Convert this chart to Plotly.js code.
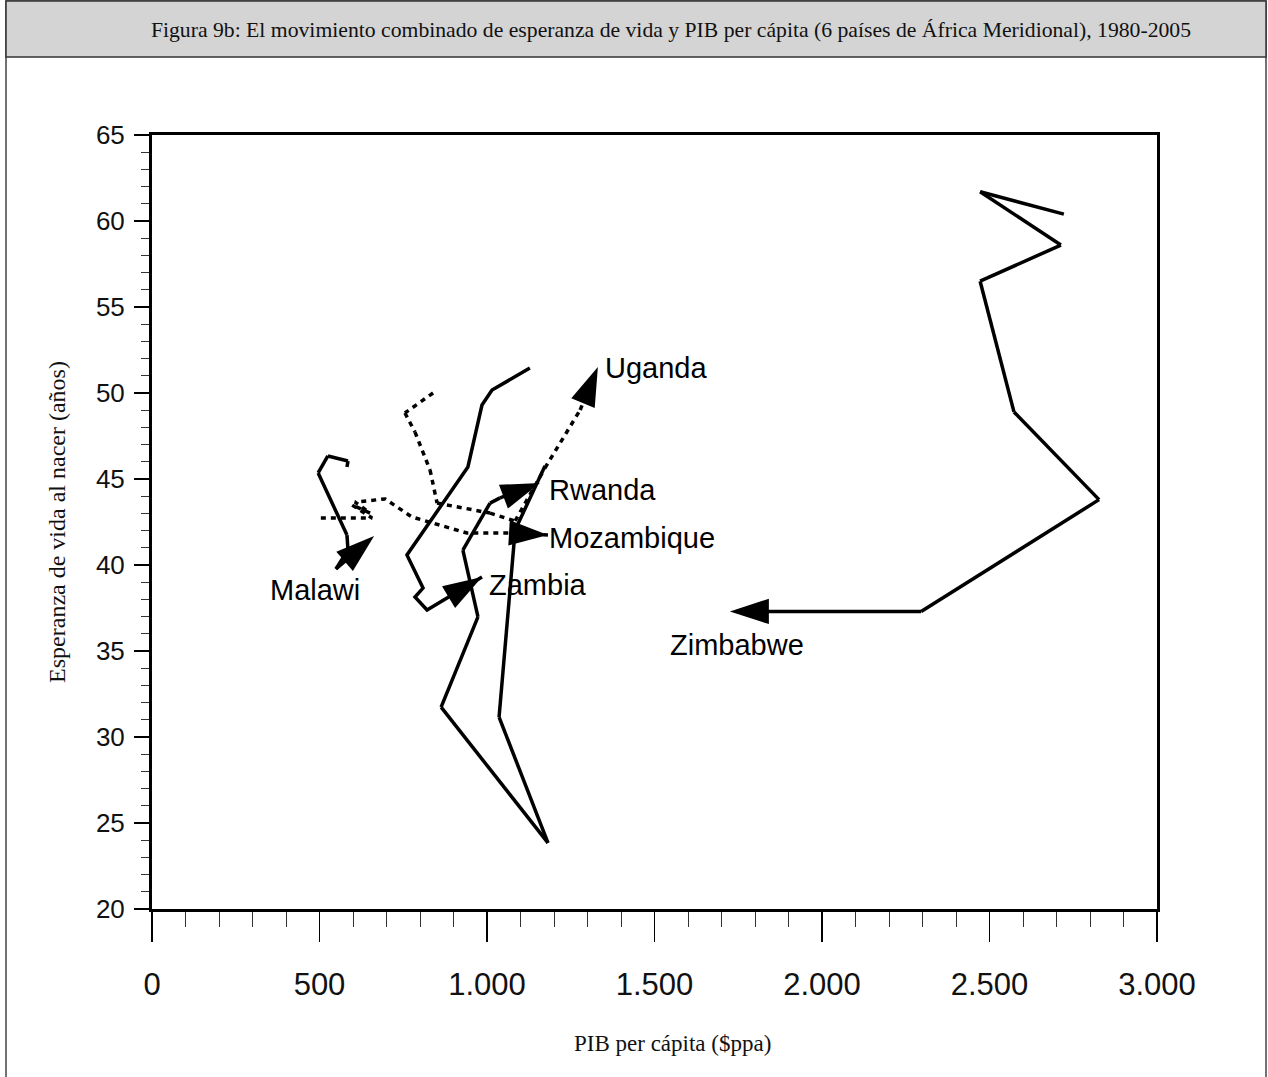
<!DOCTYPE html>
<html>
<head>
<meta charset="utf-8">
<script src="https://cdn.plot.ly/plotly-3.0.1.min.js"></script>
<style>html,body{margin:0;padding:0;background:#fff;}#chart{width:1268px;height:1077px;}</style>
</head>
<body>
<div id="chart"></div>
<script>
// ---- Data (PIB per cápita $ppa, esperanza de vida en años) ----
const countries = ["Zimbabwe", "Zambia", "Rwanda", "Malawi", "Mozambique", "Uganda"];

const zimbabweX = [2722, 2472, 2713, 2472, 2573, 2827, 2296, 1725];
const zimbabweY = [60.4, 61.7, 58.6, 56.5, 48.9, 43.8, 37.3, 37.3];

const zambiaX = [1128, 1015, 985, 943, 761, 809, 785, 821, 985];
const zambiaY = [51.45, 50.17, 49.3, 45.7, 40.58, 38.66, 38.14, 37.38, 39.3];

const rwandaX = [1173, 1084, 1036, 1182, 863, 973, 928, 1009, 1039, 1158];
const rwandaY = [45.76, 42.03, 31.16, 23.84, 31.74, 36.98, 40.87, 43.6, 43.9, 44.77];

const malawiX = [582, 585, 525, 496, 582, 585, 549, 663];
const malawiY = [45.7, 46.05, 46.34, 45.35, 41.74, 40.87, 39.77, 41.69];

const mozambiqueX = [504, 657, 597, 651, 606, 696, 776, 940, 1075, 1182];
const mozambiqueY = [42.73, 42.73, 43.49, 43.02, 43.66, 43.84, 42.79, 41.86, 41.86, 41.74];

const ugandaX = [839, 755, 785, 830, 851, 1009, 1084, 1173, 1278, 1331];
const ugandaY = [50.0, 48.84, 47.73, 45.52, 43.6, 43.02, 42.56, 45.64, 49.01, 51.51];

const dashed = [false, false, false, false, true, true];

// label anchors (data units)
const labelX = [1540, 1000, 1179, 346, 1179, 1346];
const labelY = [35.35, 38.84, 44.36, 38.55, 41.57, 51.45];

const xTickVals = [0, 500, 1000, 1500, 2000, 2500, 3000];
const xTickText = ["0", "500", "1.000", "1.500", "2.000", "2.500", "3.000"];
const yTickVals = [20, 25, 30, 35, 40, 45, 50, 55, 60, 65];
const yTickText = ["20", "25", "30", "35", "40", "45", "50", "55", "60", "65"];

const seriesX = [zimbabweX, zambiaX, rwandaX, malawiX, mozambiqueX, ugandaX];
const seriesY = [zimbabweY, zambiaY, rwandaY, malawiY, mozambiqueY, ugandaY];

// ---- Traces ----
const traces = countries.map((name, i) => {
  const n = seriesX[i].length;
  const sym = seriesX[i].map((_, k) => k === n - 1 ? "arrow" : "circle");
  const sz = seriesX[i].map((_, k) => k === n - 1 ? 41 : 0);
  return {
    type: "scatter",
    mode: "lines+markers",
    name: name,
    x: seriesX[i],
    y: seriesY[i],
    line: { color: "#000", width: 3.5, dash: dashed[i] ? "5px,5px" : "solid" },
    marker: { symbol: sym, size: sz, color: "#000", opacity: 1, angleref: "previous", line: { width: 0 } },
    hoverinfo: "skip",
    showlegend: false
  };
});

// ---- Layout helpers (paper coords from pixel positions) ----
const L = 152, R = 1157, T = 135, B = 909;
const px = p => (p - L) / (R - L);
const py = p => (B - p) / (B - T);

const annotations = countries.map((name, i) => ({
  x: labelX[i], y: labelY[i], xref: "x", yref: "y",
  text: name, showarrow: false, xanchor: "left", yanchor: "middle",
  font: { family: "Liberation Sans, Arial, sans-serif", size: 29, color: "#000" }
}));

// x-axis title placed as in the original (slightly right of plot centre)
annotations.push({
  x: px(672), y: py(1043), xref: "paper", yref: "paper",
  text: "PIB per cápita ($ppa)", showarrow: false, xanchor: "center", yanchor: "middle",
  font: { family: "Liberation Serif, Times New Roman, serif", size: 23, color: "#111" }
});

const shapes = [
  // outer frame
  { type: "rect", xref: "paper", yref: "paper", x0: px(6), x1: px(1266), y0: py(1080), y1: py(1),
    line: { color: "#444", width: 1.5 }, fillcolor: "rgba(0,0,0,0)", layer: "below" },
  // title band
  { type: "rect", xref: "paper", yref: "paper", x0: px(6), x1: px(1266), y0: py(57), y1: py(1),
    line: { color: "#333", width: 1.5 }, fillcolor: "#d4d4d4", layer: "below" }
];

const layout = {
  width: 1268,
  height: 1077,
  paper_bgcolor: "#fff",
  plot_bgcolor: "#fff",
  margin: { l: L, r: 1268 - R, t: T, b: 1077 - B },
  showlegend: false,
  title: {
    text: "Figura 9b: El movimiento combinado de esperanza de vida y PIB per cápita (6 países de África Meridional), 1980-2005",
    x: 671 / 1268, xanchor: "center", xref: "container",
    y: 1 - 29 / 1077, yanchor: "middle", yref: "container",
    font: { family: "Liberation Serif, Times New Roman, serif", size: 21.7, color: "#111" }
  },
  xaxis: {
    range: [0, 3000],
    tickmode: "array", tickvals: xTickVals, ticktext: xTickText,
    ticks: "outside", ticklen: 30, tickwidth: 1.5, tickcolor: "#000",
    minor: { dtick: 100, tick0: 0, ticks: "outside", ticklen: 15, tickwidth: 1, tickcolor: "#333", showgrid: false },
    showline: true, linecolor: "#000", linewidth: 3, mirror: true,
    showgrid: false, zeroline: false,
    ticklabelstandoff: 16,
    tickfont: { family: "Liberation Sans, Arial, sans-serif", size: 31, color: "#111" }
  },
  yaxis: {
    range: [20, 65],
    tickmode: "array", tickvals: yTickVals, ticktext: yTickText,
    ticks: "outside", ticklen: 15, tickwidth: 1.5, tickcolor: "#000",
    minor: { dtick: 1, tick0: 20, ticks: "outside", ticklen: 8, tickwidth: 1, tickcolor: "#333", showgrid: false },
    showline: true, linecolor: "#000", linewidth: 3, mirror: true,
    showgrid: false, zeroline: false,
    ticklabelstandoff: 4,
    tickfont: { family: "Liberation Sans, Arial, sans-serif", size: 26, color: "#111" },
    title: { text: "Esperanza de vida al nacer (años)", standoff: 24,
      font: { family: "Liberation Serif, Times New Roman, serif", size: 24, color: "#111" } }
  },
  annotations: annotations,
  shapes: shapes
};

Plotly.newPlot("chart", traces, layout, { staticPlot: true, displayModeBar: false });
</script>
</body>
</html>
